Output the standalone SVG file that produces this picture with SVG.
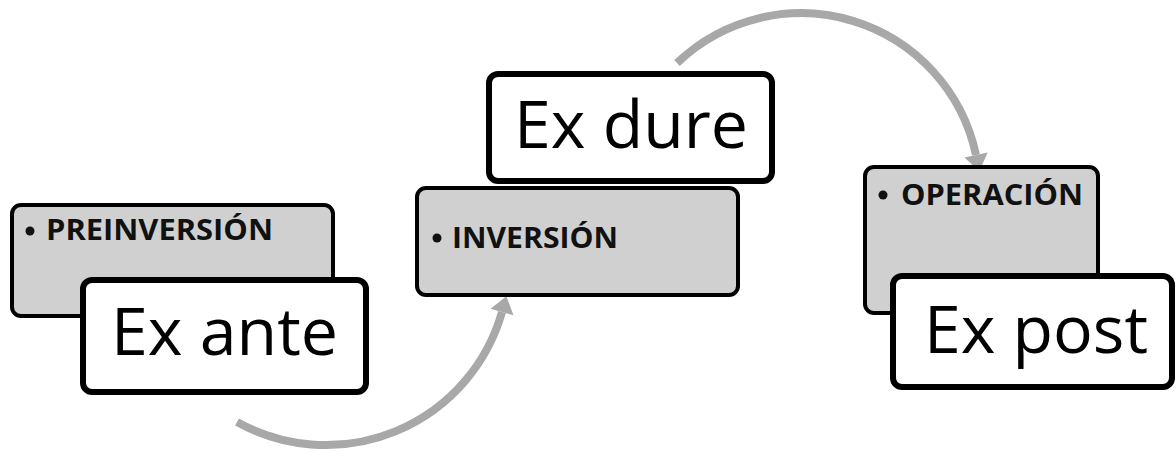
<svg xmlns="http://www.w3.org/2000/svg" width="1176" height="452" viewBox="0 0 1176 452">
  <style>
    .phase { fill: #d0d0d0; stroke: #000; stroke-width: 4; }
    .stage { fill: #fff; stroke: #000; stroke-width: 6; }
    .label { font-family: "Open Sans", "Liberation Sans", sans-serif; font-weight: 700; font-size: 29px; fill: #111; }
    .title { font-family: "Open Sans", "Liberation Sans", sans-serif; font-size: 66px; fill: #000; }
    .dot { fill: #111; }
    .flow { fill: none; stroke: #a8a8a8; stroke-width: 8; }
  </style>
  <defs>
    <marker id="head" markerUnits="userSpaceOnUse" markerWidth="24" markerHeight="26" refX="0" refY="12" orient="auto" viewBox="0 0 16 24">
      <path d="M0,1 L15,12 L0,23 z" fill="#a8a8a8"/>
    </marker>
  </defs>

  <!-- connectors drawn first so the boxes sit on top -->
  <g id="connectors">
    <path class="flow" d="M237,422 A183,183 0 0 0 502,312" marker-end="url(#head)"/>
    <path class="flow" d="M677,63 A179,179 0 0 1 976,155" marker-end="url(#head)"/>
  </g>

  <g id="ex-ante">
    <rect class="phase" x="12" y="205" width="321" height="111" rx="9"/>
    <circle class="dot" cx="30" cy="231" r="4.5"/>
    <text class="label" x="46" y="240" textLength="227" lengthAdjust="spacingAndGlyphs">PREINVERSIÓN</text>
    <rect class="stage" x="83" y="280" width="283" height="112" rx="9"/>
    <text class="title" x="111" y="355" textLength="227" lengthAdjust="spacingAndGlyphs">Ex ante</text>
  </g>

  <g id="ex-dure">
    <rect class="phase" x="417" y="188" width="321" height="107" rx="9"/>
    <circle class="dot" cx="437" cy="238" r="4.5"/>
    <text class="label" x="452" y="248" textLength="166" lengthAdjust="spacingAndGlyphs">INVERSIÓN</text>
    <rect class="stage" x="489" y="74" width="283" height="107" rx="9"/>
    <text class="title" x="514" y="148" textLength="234" lengthAdjust="spacingAndGlyphs">Ex dure</text>
  </g>

  <g id="ex-post">
    <rect class="phase" x="865" y="167" width="233" height="146" rx="9"/>
    <circle class="dot" cx="883" cy="195" r="4.5"/>
    <text class="label" x="901" y="205" textLength="182" lengthAdjust="spacingAndGlyphs">OPERACIÓN</text>
    <rect class="stage" x="893" y="276" width="279" height="111" rx="9"/>
    <text class="title" x="924" y="353" textLength="224" lengthAdjust="spacingAndGlyphs">Ex post</text>
  </g>
</svg>
